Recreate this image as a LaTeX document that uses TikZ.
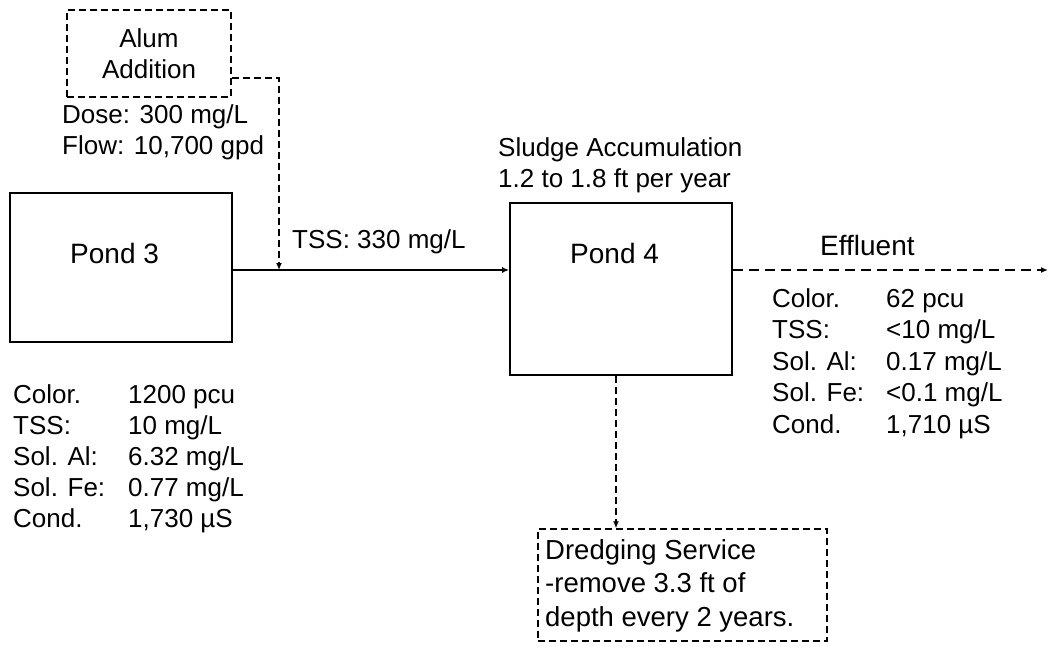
\documentclass[tikz,border=0pt]{standalone}
\usepackage{fontspec}
\setmainfont{Liberation Sans}
\usetikzlibrary{arrows.meta}
\begin{document}
\begin{tikzpicture}[x=1pt,y=-1pt,
  tip/.style={-{Latex[length=7pt,width=6pt]}},
  pond/.style={draw, line width=1.8pt, inner sep=0pt},
  dbox/.style={draw, line width=1.5pt, dash pattern=on 7pt off 4pt, inner sep=0pt},
  dline/.style={line width=1.5pt, dash pattern=on 7pt off 4pt, tip},
  eline/.style={line width=1.5pt, dash pattern=on 10pt off 6pt, tip},
  sline/.style={line width=1.6pt, tip},
  txt/.style={font=\fontsize{26}{31}\selectfont, inner sep=0pt, anchor=base west},
  lbl/.style={font=\fontsize{28}{33}\selectfont, inner sep=0pt, anchor=base west}]
\useasboundingbox (0,0) rectangle (1049,647);

% boxes
\node[dbox, minimum width=164pt, minimum height=87pt, align=center,
      font=\fontsize{26}{31}\selectfont] (alum) at (149,53.5) {Alum\\Addition};
\node[pond, minimum width=222pt, minimum height=149pt] (pond3) at (121,267.5) {};
\node[pond, minimum width=222pt, minimum height=172pt] (pond4) at (621,289) {};
\node[dbox, minimum width=289pt, minimum height=112pt] (dredge) at (682.5,585) {};

% labels
\node[lbl] (p3t) at (70,263) {Pond 3};
\node[lbl] (p4t) at (570,263) {Pond 4};
\node[lbl] (efft) at (820,255) {Effluent};
\node[txt] (dose) at (62,124) {\begin{tabular}[t]{@{}l@{}}Dose: 300 mg/L\\Flow: 10,700 gpd\end{tabular}};
\node[txt] (tss) at (292,248) {TSS: 330 mg/L};
\node[txt] (sludge) at (498,157) {\begin{tabular}[t]{@{}l@{}}Sludge Accumulation\\1.2 to 1.8 ft per year\end{tabular}};
\node[txt] (p3data) at (13,403) {\begin{tabular}[t]{@{}p{115pt}@{}l@{}}
Color. & 1200 pcu\\
TSS: & 10 mg/L\\
Sol. Al: & 6.32 mg/L\\
Sol. Fe: & 0.77 mg/L\\
Cond. & 1,730 µS\end{tabular}};
\node[txt, font=\fontsize{26}{31.5}\selectfont] (effdata) at (772,307) {\begin{tabular}[t]{@{}p{114pt}@{}l@{}}
Color. & 62 pcu\\
TSS: & <10 mg/L\\
Sol. Al: & 0.17 mg/L\\
Sol. Fe: & <0.1 mg/L\\
Cond. & 1,710 µS\end{tabular}};
\node[txt, font=\fontsize{27.5}{33.5}\selectfont] (dtext) at (545,559) {\begin{tabular}[t]{@{}l@{}}Dredging Service\\-remove 3.3 ft of\\depth every 2 years.\end{tabular}};

% connectors
\coordinate (j) at (279,270);
\coordinate (eend) at (1048,270);
\draw[dline] ([yshift=-24.5pt]alum.east) -| (j);
\draw[sline] (pond3.east |- j) -- (pond4.west |- j);
\draw[eline] (pond4.east |- j) -- (eend);
\draw[dline] ([xshift=-5pt]pond4.south) -- ([xshift=-5pt]pond4.south |- dredge.north);
\end{tikzpicture}
\end{document}
